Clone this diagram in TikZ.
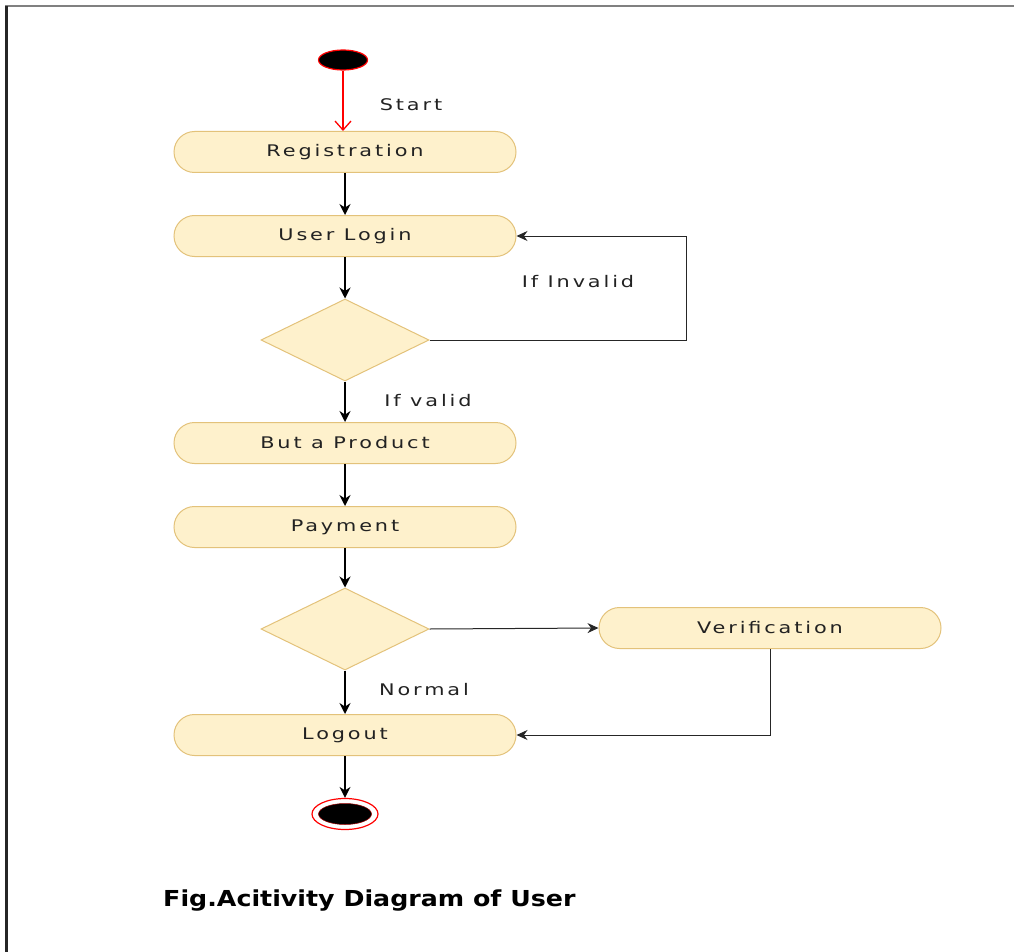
\documentclass[tikz,border=0pt]{standalone}
\usepackage{fontspec}
\setmainfont{DejaVu Sans}
\newfontfamily\lblfont[FakeStretch=1.3,LetterSpace=18]{DejaVu Sans}
\newfontfamily\capfont{DejaVu Sans}
\usetikzlibrary{shapes.geometric,arrows.meta}
\definecolor{actfill}{HTML}{FEF1CC}
\definecolor{actborder}{HTML}{E3C27A}
\definecolor{txt}{HTML}{222222}
\tikzset{
  act/.style={draw=actborder, fill=actfill, line width=1pt, rounded corners=20.5pt,
    minimum width=342pt, minimum height=41pt, inner sep=0pt,
    font=\lblfont\fontsize{16}{18}\selectfont, text=txt},
  dec/.style={diamond, draw=actborder, fill=actfill, line width=1pt,
    minimum width=168pt, minimum height=82pt, inner sep=0pt},
  lbl/.style={font=\lblfont\fontsize{16}{18}\selectfont, text=txt},
  flow/.style={line width=1.6pt, black, -{Stealth[length=11pt,width=11pt]}},
  thinflow/.style={line width=1pt, black!85, -{Stealth[length=11pt,width=10pt]}},
}
\begin{document}
\begin{tikzpicture}[x=1pt,y=-1pt]
\useasboundingbox (0,0) rectangle (1014,952);
% frame
\draw[gray, line width=2pt] (5,6) -- (1014,6);
\draw[black!85, line width=3pt] (6,6) -- (6,952);
% nodes
\node[ellipse, draw=red, fill=black, line width=1.2pt, minimum width=49pt, minimum height=20pt, inner sep=0pt] (start) at (343,60) {};
\node[act] (reg) at (345,152) {Registration};
\node[act] (login) at (345,236) {User Login};
\node[dec] (d1) at (345,340) {};
\node[act] (buy) at (345,443) {But a Product};
\node[act] (pay) at (345,527) {Payment};
\node[dec] (d2) at (345,629) {};
\node[act] (verif) at (770,628) {Verification};
\node[act] (logout) at (345,735) {Logout};
\node[ellipse, draw=red, line width=1.2pt, minimum width=66pt, minimum height=31pt, inner sep=0pt] (stop) at (345,814) {};
\node[ellipse, draw=red!60!black, fill=black, line width=0.5pt, minimum width=53pt, minimum height=21pt, inner sep=0pt] (stopin) at (345,814) {};
% labels
\node[lbl] (lstart) at (411,105) {Start};
\node[lbl] (linv) at (578,282) {If Invalid};
\node[lbl] (lval) at (428,401) {If valid};
\node[lbl] (lnorm) at (424,690) {Normal};
\node[anchor=west, inner sep=0pt, xscale=1.15, font=\capfont\bfseries\fontsize{22}{26}\selectfont] (cap) at (163,901) {Fig.Acitivity Diagram of User};
% connectors
\draw[red, line width=1.3pt, -{Straight Barb[length=9pt,width=16pt]}] (start.south) -- (reg.north -| start.south);
\draw[flow] (reg) -- (login);
\draw[flow] (login) -- (d1);
\draw[thinflow] (d1.east) -| (686,236) -- (login.east);
\draw[flow] (d1) -- (buy);
\draw[flow] (buy) -- (pay);
\draw[flow] (pay) -- (d2);
\draw[thinflow] (d2.east) -- (verif.west);
\draw[flow] (d2) -- (logout);
\draw[thinflow] (verif.south) |- (logout.east);
\draw[flow] (logout) -- (stop);
\end{tikzpicture}
\end{document}
